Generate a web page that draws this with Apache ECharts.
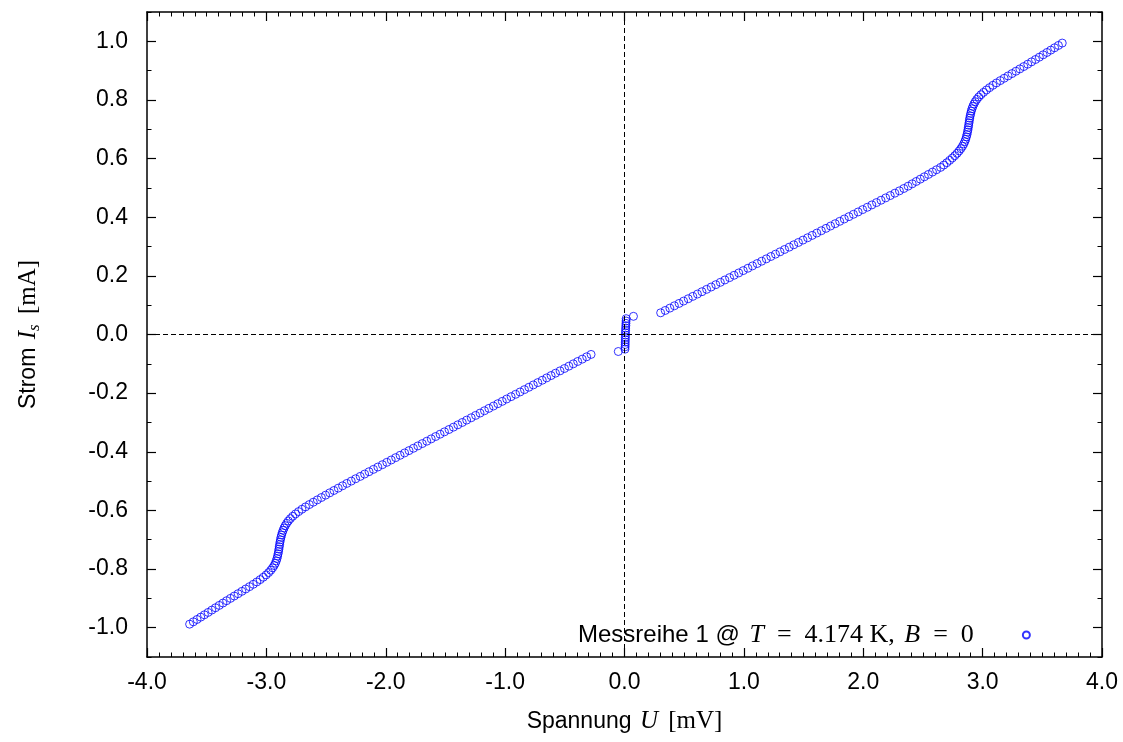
<!DOCTYPE html>
<html>
<head>
<meta charset="utf-8">
<script src="https://cdn.jsdelivr.net/npm/echarts@6.0.0/dist/echarts.min.js"></script>
<style>html,body{margin:0;padding:0;background:#fff}#c{width:1123px;height:742px}</style>
</head>
<body>
<div id="c"></div>
<script>
// ---- data (U in mV, I in mA) ----
const negU = [-0.280,-0.317,-0.354,-0.392,-0.429,-0.466,-0.503,-0.540,-0.578,-0.615,-0.652,-0.689,-0.726,-0.764,-0.801,-0.838,-0.875,-0.912,-0.950,-0.987,-1.024,-1.061,-1.098,-1.136,-1.173,-1.210,-1.247,-1.284,-1.322,-1.359,-1.396,-1.433,-1.470,-1.508,-1.545,-1.582,-1.619,-1.656,-1.694,-1.731,-1.768,-1.805,-1.842,-1.880,-1.917,-1.954,-1.991,-2.028,-2.066,-2.103,-2.140,-2.177,-2.214,-2.252,-2.289,-2.326,-2.362,-2.398,-2.434,-2.469,-2.504,-2.539,-2.573,-2.607,-2.640,-2.672,-2.702,-2.730,-2.756,-2.779,-2.799,-2.816,-2.830,-2.842,-2.852,-2.860,-2.867,-2.873,-2.878,-2.882,-2.886,-2.889,-2.892,-2.895,-2.898,-2.902,-2.906,-2.911,-2.917,-2.925,-2.935,-2.948,-2.963,-2.981,-3.002,-3.026,-3.052,-3.080,-3.110,-3.141,-3.173,-3.205,-3.237,-3.269,-3.301,-3.333,-3.364,-3.395,-3.426,-3.457,-3.488,-3.519,-3.550,-3.581,-3.612,-3.643];
const negI = [-0.068,-0.076,-0.084,-0.092,-0.100,-0.108,-0.116,-0.124,-0.132,-0.140,-0.148,-0.156,-0.164,-0.172,-0.180,-0.188,-0.196,-0.204,-0.212,-0.220,-0.228,-0.236,-0.244,-0.252,-0.260,-0.268,-0.276,-0.284,-0.292,-0.300,-0.308,-0.316,-0.324,-0.332,-0.340,-0.348,-0.356,-0.364,-0.372,-0.380,-0.388,-0.396,-0.404,-0.412,-0.420,-0.428,-0.436,-0.444,-0.452,-0.460,-0.468,-0.476,-0.484,-0.492,-0.500,-0.508,-0.516,-0.524,-0.532,-0.540,-0.548,-0.556,-0.564,-0.572,-0.580,-0.588,-0.596,-0.604,-0.612,-0.620,-0.628,-0.636,-0.644,-0.652,-0.660,-0.668,-0.676,-0.684,-0.692,-0.700,-0.708,-0.716,-0.724,-0.732,-0.740,-0.748,-0.756,-0.764,-0.772,-0.780,-0.788,-0.796,-0.804,-0.812,-0.820,-0.828,-0.836,-0.844,-0.852,-0.860,-0.868,-0.876,-0.884,-0.892,-0.900,-0.908,-0.916,-0.924,-0.932,-0.940,-0.948,-0.956,-0.964,-0.972,-0.980,-0.988];

const ctrU = [-0.052,0.004,0.005,0.006,0.006,0.007,0.007,0.008,0.008,0.009,0.010,0.011,0.012,0.013,0.014,0.075];
const ctrI = [-0.058,-0.050,-0.042,-0.034,-0.026,-0.018,-0.010,-0.002,0.006,0.014,0.022,0.030,0.038,0.046,0.054,0.062];

const posU = [0.303,0.341,0.380,0.418,0.457,0.495,0.534,0.572,0.611,0.649,0.688,0.726,0.765,0.803,0.841,0.880,0.918,0.957,0.995,1.034,1.072,1.111,1.149,1.188,1.226,1.265,1.303,1.341,1.380,1.418,1.457,1.495,1.534,1.572,1.611,1.649,1.688,1.726,1.765,1.803,1.841,1.880,1.918,1.957,1.995,2.034,2.072,2.111,2.149,2.188,2.226,2.265,2.303,2.340,2.376,2.410,2.444,2.478,2.512,2.546,2.580,2.614,2.648,2.675,2.700,2.724,2.746,2.767,2.786,2.803,2.818,2.831,2.842,2.851,2.858,2.864,2.869,2.873,2.877,2.880,2.883,2.886,2.889,2.892,2.896,2.900,2.905,2.911,2.918,2.927,2.938,2.951,2.967,2.986,3.008,3.032,3.058,3.086,3.116,3.148,3.180,3.213,3.246,3.279,3.312,3.345,3.378,3.410,3.443,3.475,3.507,3.539,3.571,3.603,3.635,3.667];
const posI = [0.074,0.082,0.090,0.098,0.106,0.114,0.122,0.130,0.138,0.146,0.154,0.162,0.170,0.178,0.186,0.194,0.202,0.210,0.218,0.226,0.234,0.242,0.250,0.258,0.266,0.274,0.282,0.290,0.298,0.306,0.314,0.322,0.330,0.338,0.346,0.354,0.362,0.370,0.378,0.386,0.394,0.402,0.410,0.418,0.426,0.434,0.442,0.450,0.458,0.466,0.474,0.482,0.490,0.498,0.506,0.514,0.522,0.530,0.538,0.546,0.554,0.562,0.570,0.578,0.586,0.594,0.602,0.610,0.618,0.626,0.634,0.642,0.650,0.658,0.666,0.674,0.682,0.690,0.698,0.706,0.714,0.722,0.730,0.738,0.746,0.754,0.762,0.770,0.778,0.786,0.794,0.802,0.810,0.818,0.826,0.834,0.842,0.850,0.858,0.866,0.874,0.882,0.890,0.898,0.906,0.914,0.922,0.930,0.938,0.946,0.954,0.962,0.970,0.978,0.986,0.994];

const yTicks = [-1.0,-0.8,-0.6,-0.4,-0.2,0.0,0.2,0.4,0.6,0.8,1.0];
const seriesName = 'Messreihe 1';

// ---- build ----
function zip(u, i) { return u.map((v, k) => [v, i[k]]); }
const data = zip(negU, negI).concat(zip(ctrU, ctrI), zip(posU, posI));

const SANS = 'Liberation Sans';
const SERIF = 'Liberation Serif';
const fmt = v => Number(v).toFixed(1);
const black = '#000';

function xAx(pos, labels) {
  return {
    type: 'value', position: pos, min: -4, max: 4, interval: 1,
    axisLine: { show: true, onZero: false, lineStyle: { color: black, width: 1.5 } },
    axisTick: { show: true, inside: true, length: 9, lineStyle: { color: black, width: 1.2 } },
    minorTick: { show: true, splitNumber: 10, length: 4.5, lineStyle: { color: black, width: 1 } },
    splitLine: { show: false }, minorSplitLine: { show: false },
    axisLabel: { show: labels, formatter: fmt, fontFamily: SANS, fontSize: 23, color: black, margin: 14 }
  };
}
function yMajor(pos, labels) {
  return {
    type: 'value', position: pos, min: -1.1, max: 1.1,
    axisLine: { show: true, onZero: false, lineStyle: { color: black, width: 1.5 } },
    axisTick: { show: true, inside: true, length: 9, customValues: yTicks, lineStyle: { color: black, width: 1.2 } },
    splitLine: { show: false },
    axisLabel: { show: labels, customValues: yTicks, formatter: fmt, fontFamily: SANS, fontSize: 23, color: black, margin: 19 }
  };
}
function yMinor(pos) {
  return {
    type: 'value', position: pos, min: -1.1, max: 1.1, interval: 0.1,
    axisLine: { show: false, onZero: false },
    axisTick: { show: true, inside: true, length: 4.5, lineStyle: { color: black, width: 1 } },
    splitLine: { show: false },
    axisLabel: { show: false }
  };
}

const xBottom = xAx('bottom', true);
xBottom.name = '{s|Spannung }{m|U}{r| [mV]}';
xBottom.nameLocation = 'middle';
xBottom.nameGap = 52;
xBottom.nameTextStyle = { rich: {
  s: { fontFamily: SANS, fontSize: 23, color: black },
  m: { fontFamily: SERIF, fontStyle: 'italic', fontSize: 25, color: black, padding: [0, 4, 0, 2] },
  r: { fontFamily: SERIF, fontSize: 25, color: black }
}};

const yLeft = yMajor('left', true);
yLeft.name = '{s|Strom }{m|I}{sub|s}{r| [mA]}';
yLeft.nameLocation = 'middle';
yLeft.nameGap = 104;
yLeft.nameTextStyle = { rich: {
  s: { fontFamily: SANS, fontSize: 23, color: black },
  m: { fontFamily: SERIF, fontStyle: 'italic', fontSize: 25, color: black, padding: [0, 0, 0, 2] },
  sub: { fontFamily: SERIF, fontStyle: 'italic', fontSize: 17, color: black, padding: [12, 4, 0, 0] },
  r: { fontFamily: SERIF, fontSize: 25, color: black }
}};

const chart = echarts.init(document.getElementById('c'), null, { renderer: 'canvas' });
chart.setOption({
  animation: false,
  backgroundColor: '#fff',
  textStyle: { fontFamily: SANS },
  grid: { left: 147, right: 21, top: 12, bottom: 85, containLabel: false },
  xAxis: [xBottom, xAx('top', false)],
  yAxis: [yLeft, yMajor('right', false), yMinor('left'), yMinor('right')],
  legend: {
    left: 573, top: 617, align: 'right', icon: 'circle',
    itemWidth: 7, itemHeight: 7,
    data: [seriesName],
    formatter: () => '{s|Messreihe 1 @ }{m|T}{r|  =  4.174 K, }{m|B}{r|  =  0}{g| }',
    textStyle: { rich: {
      s: { fontFamily: SANS, fontSize: 24, color: black, lineHeight: 28 },
      m: { fontFamily: SERIF, fontStyle: 'italic', fontSize: 26, color: black, lineHeight: 28, padding: [0, 0, 0, 3] },
      r: { fontFamily: SERIF, fontSize: 26, color: black, lineHeight: 28 },
      g: { width: 44, lineHeight: 28 }
    }}
  },
  series: [{
    name: seriesName,
    type: 'scatter',
    xAxisIndex: 0, yAxisIndex: 0,
    symbol: 'circle', symbolSize: 8,
    itemStyle: { color: 'rgba(0,0,0,0)', borderColor: '#0000ff', borderWidth: 1 },
    emphasis: { disabled: true },
    data: data,
    z: 3,
    markLine: {
      silent: true, symbol: ['none', 'none'], label: { show: false },
      lineStyle: { color: black, type: [5, 3], width: 1 },
      emphasis: { disabled: true },
      data: [{ xAxis: 0 }, { yAxis: 0 }]
    }
  }]
});
</script>
</body>
</html>
